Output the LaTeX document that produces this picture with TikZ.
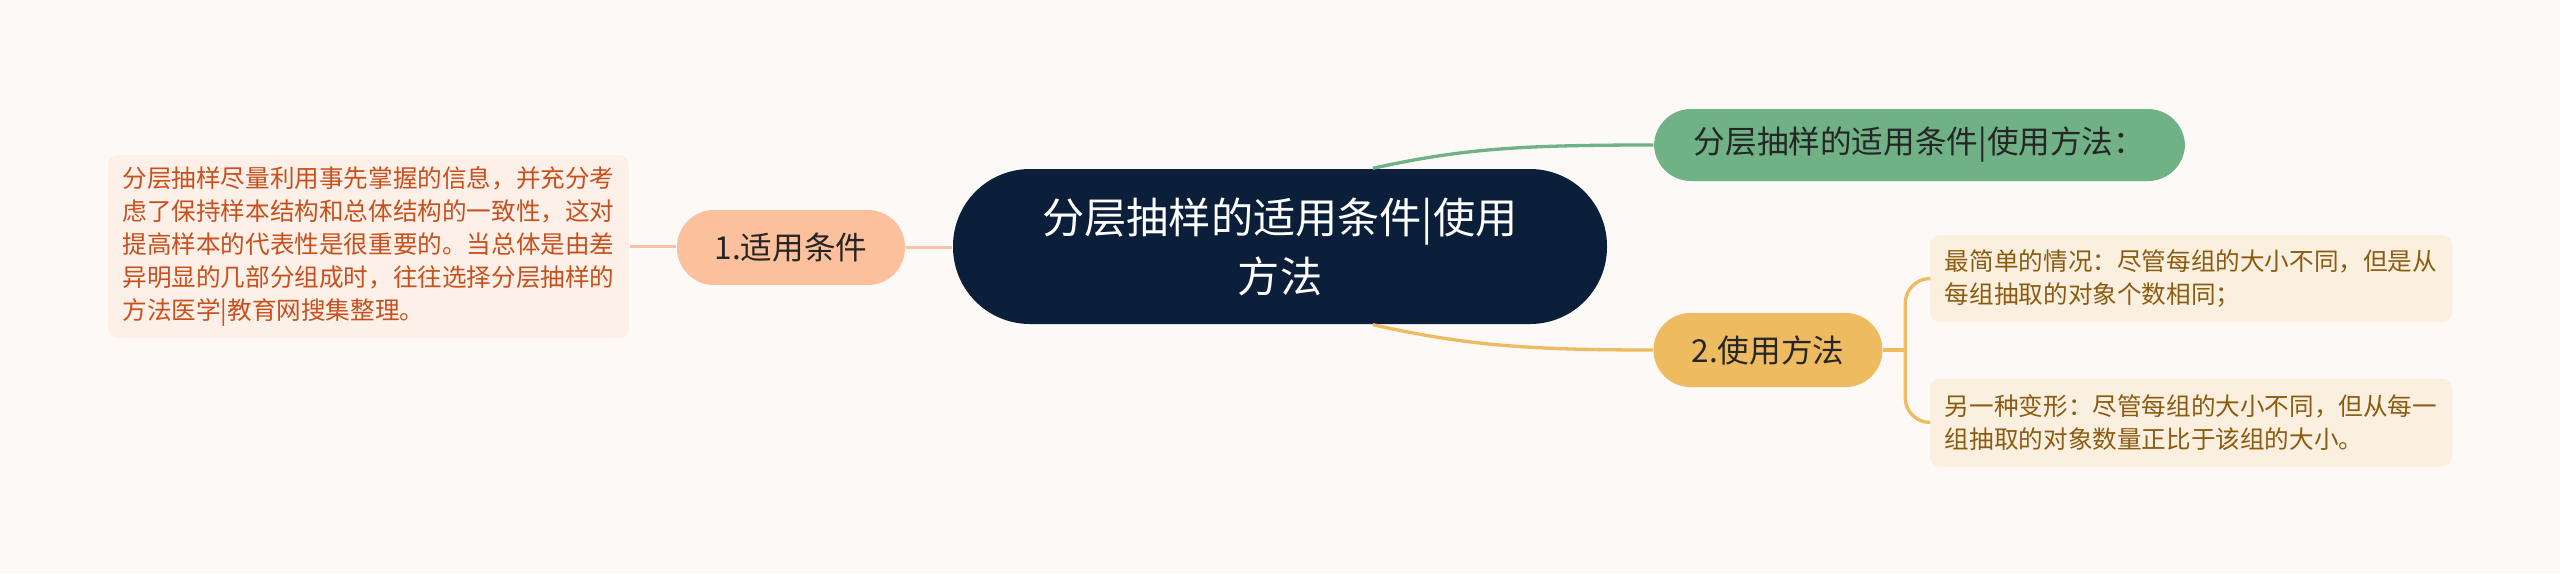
\documentclass[tikz,border=0pt]{standalone}
\usepackage{fontspec}
\newfontfamily\cjk{Noto Sans CJK SC}
\definecolor{bg}{HTML}{FDF9F7}
\definecolor{navy}{HTML}{0B1F3A}
\definecolor{ink}{HTML}{262626}
\definecolor{peach}{HTML}{FCC09C}
\definecolor{peachline}{HTML}{F8C3A4}
\definecolor{peachlight}{HTML}{FDF0E8}
\definecolor{rust}{HTML}{C9501C}
\definecolor{sage}{HTML}{70B186}
\definecolor{sand}{HTML}{EFBB60}
\definecolor{cream}{HTML}{FBF0E0}
\definecolor{umber}{HTML}{8C5B10}
\begin{document}
\begin{tikzpicture}[x=0.1mm,y=-0.1mm,
    pill/.style={rounded corners=3.7mm, inner sep=0pt, text=ink, font=\cjk\fontsize{9}{10.5}\selectfont},
    note/.style={rounded corners=1mm, inner sep=0pt, align=left, font=\cjk\fontsize{7}{9.4}\selectfont},
    link/.style={line width=0.33mm}]
  \fill[bg] (0,0) rectangle (2560,573);
  \useasboundingbox (0,0) rectangle (2560,573);

  \node[fill=navy, rounded corners=7.7mm, minimum width=65.4mm, minimum height=15.5mm, inner sep=0pt,
        text=white, align=center, font=\cjk\fontsize{12}{16.8}\selectfont] (root) at (1280,246.5)
        {分层抽样的适用条件|使用\\方法};

  \node[pill, fill=peach, minimum width=22.8mm, minimum height=7.5mm] (cond) at (791,247.5) {1.适用条件};
  \node[note, fill=peachlight, text=rust, minimum width=52.1mm, minimum height=18.3mm] (condtext) at (368.5,246.5)
        {分层抽样尽量利用事先掌握的信息，并充分考\\虑了保持样本结构和总体结构的一致性，这对\\提高样本的代表性是很重要的。当总体是由差\\异明显的几部分组成时，往往选择分层抽样的\\方法医学|教育网搜集整理。};

  \node[pill, fill=sage, minimum width=53.1mm, minimum height=7.2mm] (title) at (1919.5,145) {分层抽样的适用条件|使用方法：};

  \node[pill, fill=sand, minimum width=22.9mm, minimum height=7.4mm] (use) at (1768,350) {2.使用方法};
  \node[note, fill=cream, text=umber, minimum width=52.2mm, minimum height=8.7mm] (simple) at (2191,278.5)
        {最简单的情况：尽管每组的大小不同，但是从\\每组抽取的对象个数相同；};
  \node[note, fill=cream, text=umber, minimum width=52.2mm, minimum height=8.8mm] (variant) at (2191,422.5)
        {另一种变形：尽管每组的大小不同，但从每一\\组抽取的对象数量正比于该组的大小。};

  \draw[link, peachline] (condtext.east) -- (condtext.east -| cond.west);
  \draw[link, peachline] (cond.east) -- (cond.east -| root.west);
  \draw[link, sage] ([xshift=9.3mm]root.north) .. controls +(90,-20) and +(-130,0) .. (title.west);
  \draw[link, sand] ([xshift=9.3mm]root.south) .. controls +(90,20) and +(-130,0) .. (use.west);

  \coordinate (fork) at ([xshift=2.2mm]use.east);
  \draw[link, sand] (use.east) -- (fork);
  \draw[link, sand, rounded corners=2.5mm] (simple.west) -| (fork) |- (variant.west);
\end{tikzpicture}
\end{document}
